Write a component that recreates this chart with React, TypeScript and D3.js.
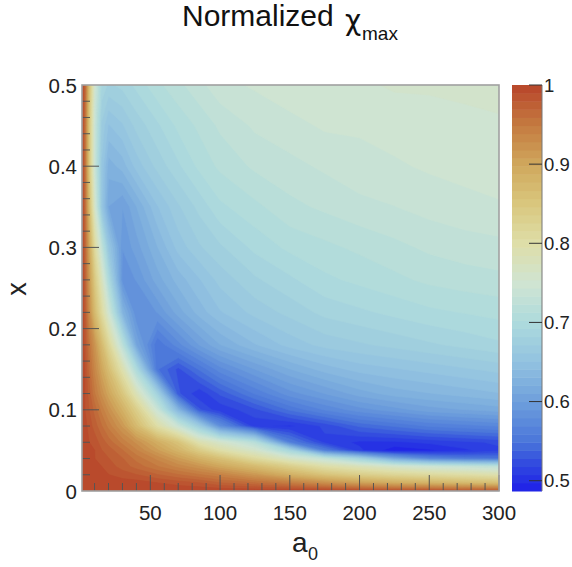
import React, { useMemo } from "react";
import * as d3 from "d3";

// a0 sample positions (columns) and x sample positions (rows)
const a0Nodes = [1, 3, 6, 10, 15, 20, 30, 40, 55, 70, 85, 100, 125, 150, 175, 200, 225, 250, 275, 300];
const xNodes = [0, 0.01, 0.02, 0.03, 0.04, 0.05, 0.06, 0.08, 0.1, 0.12, 0.15, 0.18, 0.22, 0.26, 0.3, 0.35, 0.4, 0.45, 0.5];

// normalized chi_max, one row per x node (x ascending)
const row000 = [1, 1, 1, 1, 1, 1, 1, 1, 1, 1, 1, 1, 1, 1, 1, 0.995, 0.99, 0.99, 0.985, 0.985];
const row001 = [1, 1, 1, 1, 1, 1, 0.995, 0.995, 0.99, 0.985, 0.98, 0.97, 0.96, 0.945, 0.925, 0.905, 0.89, 0.88, 0.87, 0.86];
const row002 = [1, 1, 1, 1, 0.995, 0.99, 0.985, 0.98, 0.97, 0.96, 0.95, 0.94, 0.915, 0.885, 0.855, 0.835, 0.82, 0.81, 0.8, 0.79];
const row003 = [1, 1, 1, 0.995, 0.99, 0.985, 0.975, 0.965, 0.95, 0.935, 0.92, 0.9, 0.87, 0.835, 0.8, 0.78, 0.76, 0.745, 0.735, 0.725];
const row004 = [1, 1, 0.995, 0.99, 0.985, 0.98, 0.97, 0.955, 0.935, 0.91, 0.885, 0.86, 0.81, 0.765, 0.73, 0.68, 0.61, 0.57, 0.555, 0.55];
const row005 = [1, 1, 0.995, 0.99, 0.98, 0.975, 0.96, 0.94, 0.91, 0.88, 0.84, 0.8, 0.76, 0.69, 0.56, 0.51, 0.49, 0.495, 0.505, 0.515];
const row006 = [1, 1, 0.99, 0.985, 0.975, 0.965, 0.945, 0.925, 0.89, 0.855, 0.79, 0.76, 0.715, 0.56, 0.515, 0.505, 0.505, 0.51, 0.515, 0.52];
const row008 = [1, 0.995, 0.985, 0.975, 0.96, 0.945, 0.915, 0.87, 0.8, 0.74, 0.67, 0.58, 0.51, 0.505, 0.52, 0.54, 0.55, 0.56, 0.565, 0.57];
const row010 = [1, 0.99, 0.98, 0.965, 0.945, 0.925, 0.885, 0.835, 0.74, 0.63, 0.53, 0.51, 0.525, 0.55, 0.57, 0.585, 0.595, 0.605, 0.61, 0.615];
const row012 = [1, 0.99, 0.975, 0.95, 0.925, 0.9, 0.85, 0.78, 0.68, 0.53, 0.51, 0.53, 0.56, 0.585, 0.6, 0.615, 0.625, 0.63, 0.635, 0.64];
const row015 = [1, 0.99, 0.965, 0.935, 0.9, 0.865, 0.79, 0.7, 0.55, 0.525, 0.55, 0.575, 0.6, 0.62, 0.635, 0.645, 0.65, 0.655, 0.66, 0.665];
const row018 = [1, 0.985, 0.955, 0.92, 0.87, 0.82, 0.72, 0.61, 0.55, 0.575, 0.6, 0.62, 0.64, 0.655, 0.665, 0.67, 0.675, 0.68, 0.685, 0.69];
const row022 = [1, 0.98, 0.93, 0.87, 0.81, 0.75, 0.63, 0.58, 0.59, 0.615, 0.635, 0.65, 0.665, 0.675, 0.685, 0.69, 0.695, 0.7, 0.703, 0.706];
const row026 = [1, 0.975, 0.915, 0.845, 0.775, 0.7, 0.585, 0.59, 0.615, 0.635, 0.65, 0.665, 0.68, 0.69, 0.7, 0.705, 0.71, 0.715, 0.718, 0.72];
const row030 = [1, 0.97, 0.9, 0.81, 0.73, 0.66, 0.59, 0.605, 0.63, 0.655, 0.67, 0.68, 0.695, 0.705, 0.71, 0.715, 0.72, 0.725, 0.728, 0.73];
const row035 = [1, 0.965, 0.87, 0.76, 0.66, 0.61, 0.6, 0.62, 0.65, 0.67, 0.685, 0.7, 0.71, 0.72, 0.725, 0.73, 0.733, 0.737, 0.74, 0.742];
const row040 = [1, 0.96, 0.85, 0.74, 0.66, 0.625, 0.635, 0.655, 0.675, 0.69, 0.705, 0.715, 0.725, 0.73, 0.735, 0.74, 0.742, 0.745, 0.747, 0.75];
const row045 = [1, 0.96, 0.85, 0.74, 0.67, 0.65, 0.66, 0.675, 0.69, 0.705, 0.715, 0.725, 0.735, 0.74, 0.745, 0.745, 0.748, 0.75, 0.75, 0.752];
const row050 = [1, 0.97, 0.86, 0.75, 0.69, 0.68, 0.685, 0.695, 0.71, 0.72, 0.73, 0.74, 0.745, 0.75, 0.75, 0.752, 0.755, 0.755, 0.757, 0.758];

const chiRows = [row000, row001, row002, row003, row004, row005, row006, row008, row010, row012, row015, row018, row022, row026, row030, row035, row040, row045, row050];

// axis / colour bar ticks
const xMajorTicks = [50, 100, 150, 200, 250, 300];
const yMajorTicks = [0, 0.1, 0.2, 0.3, 0.4, 0.5];
const zTicks = [0.5, 0.6, 0.7, 0.8, 0.9, 1];
const zMin = 0.487;
const zMax = 1.0;
const nLevels = 50;

// palette stops
const paletteStops = [0.487, 0.52, 0.55, 0.6, 0.65, 0.7, 0.75, 0.8, 0.85, 0.9, 0.95, 1.0];
const paletteColors = ["#1e1ee8", "#3048e0", "#4a76da", "#6e9fdc", "#92c2e0", "#addadd", "#d0e4d2", "#dedea8", "#d9c77e", "#d0a75c", "#c47a40", "#b8442a"];

const W = 572, H = 567;
const L = 82, R = 499, T = 85, B = 491;
const CBL = 512, CBR = 542;
const FONT = "'Liberation Sans', Arial, Helvetica, sans-serif";

function nodeMap(nodes: number[]) {
  return (g: number) => {
    let s = g - 0.5;
    s = Math.max(0, Math.min(nodes.length - 1, s));
    const i = Math.min(Math.floor(s), nodes.length - 2);
    const t = s - i;
    return nodes[i] + t * (nodes[i + 1] - nodes[i]);
  };
}

export default function App() {
  const xScale = d3.scaleLinear().domain([1, 300]).range([L, R]);
  const yScale = d3.scaleLinear().domain([0, 0.5]).range([B, T]);
  const zScale = d3.scaleLinear().domain([zMin, zMax]).range([B, T]);
  const color = d3.scaleLinear<string>().domain(paletteStops).range(paletteColors).interpolate(d3.interpolateRgb).clamp(true);

  const step = (zMax - zMin) / nLevels;
  const levels = d3.range(nLevels).map((k) => zMin + k * step);

  const paths = useMemo(() => {
    const nx = a0Nodes.length, ny = xNodes.length;
    const values = chiRows.flat();
    const contours = d3.contours().size([nx, ny]).thresholds(levels)(values);
    const mapA = nodeMap(a0Nodes);
    const mapX = nodeMap(xNodes);
    const proj = d3.geoTransform({
      point(px: number, py: number) {
        (this as any).stream.point(xScale(mapA(px)), yScale(mapX(py)));
      },
    });
    const gp = d3.geoPath(proj);
    return contours.map((c, k) => ({ d: gp(c as any) || "", fill: color(levels[k] + step / 2) }));
  }, []);

  const xMinor = d3.range(10, 301, 10);
  const yMinor = d3.range(0.02, 0.5, 0.02);

  return (
    <svg width={W} height={H} style={{ position: "absolute", left: 0, top: 0, display: "block", background: "#fff" }}>
      <defs>
        <clipPath id="frame">
          <rect x={L} y={T} width={R - L} height={B - T} />
        </clipPath>
      </defs>
      <rect x={0} y={0} width={W} height={H} fill="#fff" />
      <g clipPath="url(#frame)">
        {paths.map((p, i) => (
          <path key={i} d={p.d} fill={p.fill} stroke={p.fill} strokeWidth={0.6} />
        ))}
      </g>
      {/* ticks */}
      <g stroke="#555" strokeWidth={1}>
        {xMinor.map((v) => {
          const major = v % 50 === 0;
          return <line key={"xm" + v} x1={xScale(v)} x2={xScale(v)} y1={B} y2={B - (major ? 16 : 8)} />;
        })}
        {yMinor.map((v) => {
          const major = Math.abs(v * 10 - Math.round(v * 10)) < 1e-6;
          return <line key={"ym" + v} x1={L} x2={L + (major ? 17 : 8)} y1={yScale(v)} y2={yScale(v)} />;
        })}
      </g>
      <rect x={L} y={T} width={R - L} height={B - T} fill="none" stroke="#a0a0a0" strokeWidth={1.6} />
      {/* tick labels */}
      <g fontFamily={FONT} fontSize={20.5} fill="#222">
        {xMajorTicks.map((v) => (
          <text key={"xl" + v} x={xScale(v)} y={520} textAnchor="middle">{v}</text>
        ))}
        {yMajorTicks.map((v) => (
          <text key={"yl" + v} x={77} y={yScale(v) + 7.5} textAnchor="end">{v === 0 ? "0" : v.toFixed(1)}</text>
        ))}
      </g>
      {/* colour bar */}
      <g>
        {levels.map((lv, k) => (
          <rect key={"cb" + k} x={CBL} width={CBR - CBL} y={zScale(lv + step)} height={zScale(lv) - zScale(lv + step) + 0.5} fill={color(lv + step / 2)} />
        ))}
        <line x1={CBR} x2={CBR} y1={T} y2={B} stroke="#777" strokeWidth={1} />
        {zTicks.map((v) => (
          <line key={"zt" + v} x1={CBR} x2={CBR - 13} y1={zScale(v)} y2={zScale(v)} stroke="#333" strokeWidth={1} />
        ))}
        {zTicks.map((v) => (
          <text key={"zl" + v} x={544} y={zScale(v) + 6.5} fontFamily={FONT} fontSize={18.5} fill="#222">{v === 1 ? "1" : v.toFixed(1)}</text>
        ))}
      </g>
      {/* axis titles */}
      <text transform="translate(26,289) rotate(-90)" textAnchor="middle" fontFamily={FONT} fontSize={27} fill="#222">x</text>
      <text x={292} y={552} fontFamily={FONT} fontSize={28} fill="#222">a</text>
      <text x={308} y={560} fontFamily={FONT} fontSize={18} fill="#222">0</text>
      {/* title */}
      <text x={182} y={26} fontFamily={FONT} fontSize={30} fill="#111">Normalized</text>
      <text x={345} y={30} fontFamily="'DejaVu Sans', sans-serif" fontSize={28} fill="#111">χ</text>
      <text x={362} y={40} fontFamily={FONT} fontSize={19} fill="#111">max</text>
    </svg>
  );
}
